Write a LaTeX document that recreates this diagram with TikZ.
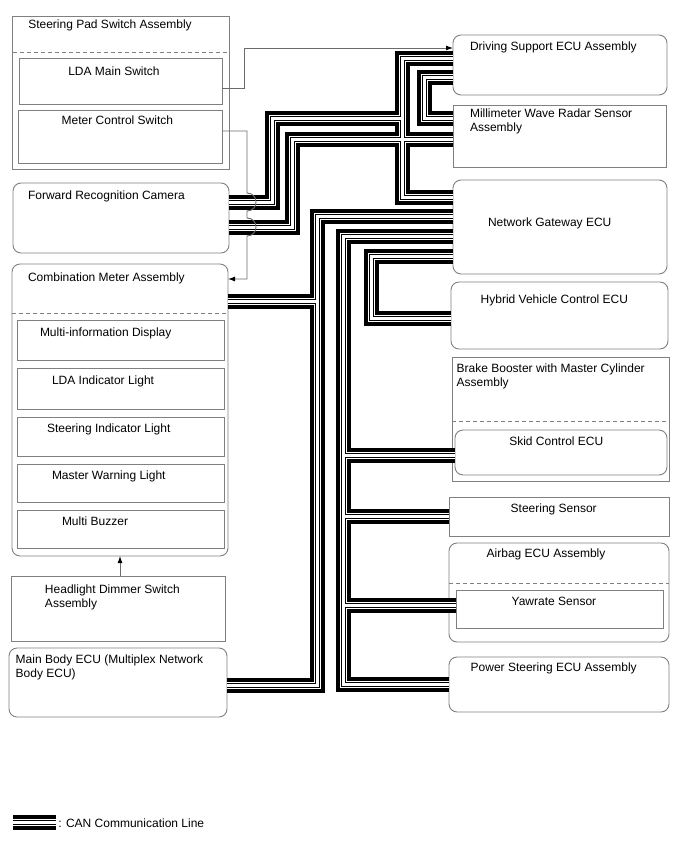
\documentclass[tikz,border=0pt]{standalone}
\usepackage{fontspec}
\setmainfont{Liberation Sans}
\usetikzlibrary{arrows.meta,calc}
\definecolor{bordergray}{gray}{0.5}
\definecolor{wiregray}{gray}{0.42}
\begin{document}
\begin{tikzpicture}[x=1pt,y=-1pt, font=\fontsize{12}{14}\selectfont,
  box/.style={draw=bordergray, line width=0.9pt, inner sep=0pt, outer sep=0pt, anchor=north west},
  rbox/.style={box, rounded corners=8pt},
  txt/.style={inner sep=0pt, outer sep=0pt, anchor=north west, align=left},
  sepline/.style={draw=bordergray, line width=0.9pt, dash pattern=on 4pt off 3pt},
  wire/.style={draw=wiregray, line width=0.9pt},
  arr/.style={wire, -{Latex[length=7pt,width=5pt,color=black]}}]
\useasboundingbox (0,0) rectangle (688,852);

% ---------- left column boxes ----------
\node[box, minimum width=216.3pt, minimum height=153pt] (sp) at (12.7,16) {};
\draw[sepline] ($(sp.north west)+(0,36)$) -- ($(sp.north east)+(0,36)$);
\node[box, minimum width=203pt, minimum height=46pt] (lda) at (19,58) {};
\node[box, minimum width=204pt, minimum height=53pt] (mcs) at (18,110) {};
\node[rbox, minimum width=216pt, minimum height=70pt] (frc) at (13,183) {};
\node[rbox, minimum width=216pt, minimum height=292pt] (cm) at (12,264) {};
\draw[sepline] ($(cm.north west)+(0,49)$) -- ($(cm.north east)+(0,49)$);
\node[box, minimum width=207pt, minimum height=40pt] (mid) at (17,320) {};
\node[box, minimum width=207pt, minimum height=41pt] (ldai) at (17,368) {};
\node[box, minimum width=207pt, minimum height=39pt] (sil) at (17,417) {};
\node[box, minimum width=207pt, minimum height=38pt] (mwl) at (17,464) {};
\node[box, minimum width=207pt, minimum height=38pt] (mbz) at (17,510) {};
\node[box, minimum width=214pt, minimum height=65pt] (hds) at (11,576) {};
\node[rbox, minimum width=218pt, minimum height=69pt] (mbe) at (9,648) {};

% ---------- right column boxes ----------
\node[rbox, minimum width=214pt, minimum height=60pt] (ds) at (453,35) {};
\node[box, minimum width=213pt, minimum height=62pt] (mw) at (453,105) {};
\node[rbox, minimum width=214pt, minimum height=94pt] (ng) at (453,180) {};
\node[rbox, minimum width=217pt, minimum height=67pt] (hv) at (451,282) {};
\node[box, minimum width=217pt, minimum height=124pt] (bb) at (452,357) {};
\draw[sepline] ($(bb.north west)+(0,64)$) -- ($(bb.north east)+(0,64)$);
\node[rbox, minimum width=212pt, minimum height=45pt] (skid) at (455,430) {};
\node[box, minimum width=220pt, minimum height=39pt] (ss) at (449,497) {};
\node[rbox, minimum width=220pt, minimum height=99pt] (ab) at (449,543) {};
\draw[sepline] ($(ab.north west)+(0,40)$) -- ($(ab.north east)+(0,40)$);
\node[box, minimum width=207pt, minimum height=38pt] (yaw) at (456,590) {};
\node[rbox, minimum width=220pt, minimum height=55pt] (ps) at (449,657) {};

% ---------- texts ----------
\node[txt] (sp-t) at (28.3,20) {Steering Pad Switch Assembly};
\node[txt] (lda-t) at (68.3,66.7) {LDA Main Switch};
\node[txt] (mcs-t) at (61.7,116) {Meter Control Switch};
\node[txt] (frc-t) at (28,190.7) {Forward Recognition Camera};
\node[txt] (cm-t) at (28,272.7) {Combination Meter Assembly};
\node[txt] (mid-t) at (40,327.7) {Multi-information Display};
\node[txt] (ldai-t) at (52,375.7) {LDA Indicator Light};
\node[txt] (sil-t) at (47,423.7) {Steering Indicator Light};
\node[txt] (mwl-t) at (52,470.7) {Master Warning Light};
\node[txt] (mbz-t) at (62,516.7) {Multi Buzzer};
\node[txt] (hds-t) at (45,584.3) {Headlight Dimmer Switch\\Assembly};
\node[txt] (mbe-t) at (15.7,655) {Main Body ECU (Multiplex Network\\Body ECU)};
\node[txt] (ds-t) at (470,41.7) {Driving Support ECU Assembly};
\node[txt] (mw-t) at (470,109.3) {Millimeter Wave Radar Sensor\\Assembly};
\node[txt] (ng-t) at (488,217.7) {Network Gateway ECU};
\node[txt] (hv-t) at (480.7,295) {Hybrid Vehicle Control ECU};
\node[txt] (bb-t) at (456.7,363.3) {Brake Booster with Master Cylinder\\Assembly};
\node[txt] (skid-t) at (509.3,436.7) {Skid Control ECU};
\node[txt] (ss-t) at (510.7,503.3) {Steering Sensor};
\node[txt] (ab-t) at (486.7,548.3) {Airbag ECU Assembly};
\node[txt] (yaw-t) at (511.7,596.7) {Yawrate Sensor};
\node[txt] (ps-t) at (470.7,662.7) {Power Steering ECU Assembly};
\node[txt] (lg-t) at (58.3,818.3) {: CAN Communication Line};

% ---------- bus routing points ----------
\coordinate (cTop) at (402,58);
\coordinate (cBot) at (402,197);
\coordinate (d1) at (424,77);
\coordinate (d2) at (424,118);
\coordinate (a1) at (272,202);
\coordinate (a2) at (272,118);
\coordinate (a3) at (402,118);
\coordinate (b1) at (292,227);
\coordinate (b2) at (292,139);
\coordinate (e1) at (317,216);
\coordinate (e2) at (317,685);
\coordinate (e3) at (317,301.5);
\coordinate (f1) at (343,236);
\coordinate (f2) at (343,684);
\coordinate (f3) at (343,455);
\coordinate (f4) at (343,516);
\coordinate (f5) at (343,605);
\coordinate (g1) at (371,256);
\coordinate (g2) at (371,318);
\coordinate (lg1) at (13,822);
\coordinate (lg2) at (56,822);

% ---------- CAN buses (layered strokes) ----------
\foreach \lw/\lc in {15/black,7/white,5/black,3/white}{
  \draw[line width=\lw pt, draw=\lc, line join=miter]
    (ds.west |- cTop) -- (cTop) -- (cBot) -- (ng.west |- cBot)
    (ds.west |- d1) -- (d1) -- (d2) -- (mw.west |- d2)
    (frc.east |- a1) -- (a1) -- (a2) -- (a3)
    (frc.east |- b1) -- (b1) -- (b2) -- (mw.west |- b2)
    (ng.west |- e1) -- (e1) -- (e2) -- (mbe.east |- e2)
    (e3) -- (cm.east |- e3)
    (ng.west |- f1) -- (f1) -- (f2) -- (ps.west |- f2)
    (f3) -- (skid.west |- f3)
    (f4) -- (ss.west |- f4)
    (f5) -- (yaw.west |- f5)
    (ng.west |- g1) -- (g1) -- (g2) -- (hv.west |- g2)
    (lg1) -- (lg2);
}

% ---------- signal wires ----------
\coordinate (l0) at (244,88);
\coordinate (l1) at (244,48);
\draw[arr] (lda.east |- l0) -- (l0) -- (l1) -- (ds.west |- l1);

\coordinate (m0) at (247,131);
\coordinate (m1) at (247,279);
\draw[arr] (mcs.east |- m0) -- (m0) -- (247,193)
  .. controls (259,193) and (259,211) .. (247,211) -- (247,218)
  .. controls (259,218) and (259,236) .. (247,236) -- (m1) -- (cm.east |- m1);

\draw[arr] (hds.north -| cm.south) -- (cm.south);
\end{tikzpicture}
\end{document}
